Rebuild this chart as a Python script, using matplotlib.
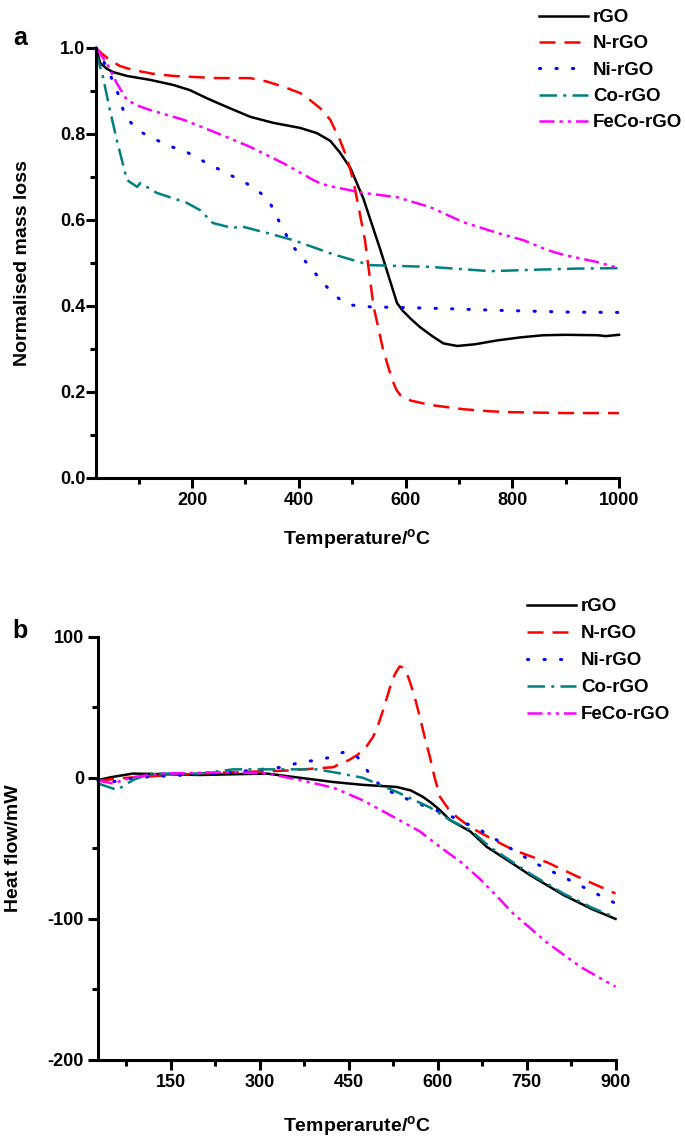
import matplotlib
matplotlib.use('Agg')
import matplotlib.pyplot as plt
from matplotlib.ticker import MultipleLocator

# ---- panel a: TGA (normalised mass loss) ----
rgo_t = [20, 28, 40, 52, 78, 121, 165, 196, 228, 265, 309, 352, 403, 434, 459, 477, 497,
         521, 553, 584, 594, 610, 627, 650, 671, 697, 730, 772, 815, 858, 900, 960, 975, 1000]
rgo_m = [1.0, 0.965, 0.952, 0.944, 0.935, 0.926, 0.914, 0.902, 0.883, 0.863, 0.84, 0.826,
         0.814, 0.802, 0.784, 0.757, 0.72, 0.65, 0.53, 0.407, 0.39, 0.37, 0.351, 0.33,
         0.313, 0.307, 0.311, 0.32, 0.327, 0.332, 0.333, 0.332, 0.33, 0.333]

nrgo_t = [20, 30, 46, 65, 89, 127, 165, 247, 309, 340, 371, 403, 421, 440, 459, 477, 490,
          502, 512, 524, 540, 558, 575, 583, 590, 610, 646, 708, 760, 802, 900, 1000]
nrgo_m = [1.0, 0.988, 0.972, 0.958, 0.949, 0.94, 0.935, 0.93, 0.93, 0.922, 0.91, 0.895,
          0.879, 0.86, 0.833, 0.786, 0.745, 0.693, 0.63, 0.553, 0.40, 0.298, 0.228,
          0.205, 0.193, 0.18, 0.17, 0.16, 0.155, 0.153, 0.151, 0.151]

nirgo_t = [20, 40, 59, 74, 89, 108, 153, 190, 228, 271, 314, 333, 346, 359, 371, 390,
           421, 446, 465, 483, 500, 534, 646, 772, 900, 1000]
nirgo_m = [1.0, 0.956, 0.902, 0.844, 0.821, 0.802, 0.774, 0.758, 0.732, 0.705, 0.677,
           0.658, 0.64, 0.607, 0.577, 0.537, 0.491, 0.453, 0.428, 0.409, 0.402, 0.398,
           0.395, 0.39, 0.386, 0.385]

corgo_t = [20, 33, 46, 59, 78, 97, 103, 134, 190, 215, 239, 277, 290, 340, 390, 465,
           534, 646, 759, 834, 920, 1000]
corgo_m = [0.99, 0.933, 0.856, 0.786, 0.693, 0.677, 0.686, 0.663, 0.64, 0.623, 0.593,
           0.581, 0.586, 0.57, 0.553, 0.52, 0.495, 0.491, 0.481, 0.484, 0.487, 0.488]

fecorgo_t = [20, 40, 59, 78, 100, 121, 184, 247, 309, 371, 400, 427, 445, 465, 521, 584,
             646, 708, 772, 821, 866, 896, 930, 960, 1000]
fecorgo_m = [1.0, 0.965, 0.918, 0.879, 0.865, 0.856, 0.833, 0.802, 0.77, 0.732, 0.712,
             0.693, 0.683, 0.677, 0.663, 0.653, 0.63, 0.595, 0.57, 0.553, 0.53, 0.519,
             0.51, 0.502, 0.488]

# ---- panel b: DSC (heat flow) ----
rgo_dsc_t = [27, 50, 86, 199, 312, 368, 424, 474, 531, 555, 575, 590, 604, 621, 655, 683,
             720, 756, 812, 860, 900]
rgo_dsc = [-1.6, 0.5, 3, 2, 3, 0, -3, -5, -6.5, -9, -13.5, -18, -23, -30, -38, -49, -59,
           -69, -83, -93, -100]

nrgo_dsc_t = [27, 76, 170, 255, 340, 424, 435, 450, 464, 478, 491, 500, 508, 516, 523,
              530, 536, 542, 548, 554, 562, 570, 578, 587, 595, 604, 618, 633, 655, 690,
              727, 785, 846, 900]
nrgo_dsc = [-2, 0, 2.5, 4, 5, 7.5, 10, 12.5, 16, 21, 29, 38, 48, 59, 69, 75, 79, 78, 74,
            67, 56, 43, 29, 14.6, 0, -13.6, -22, -28, -35, -43, -51, -60, -72, -82]

nirgo_dsc_t = [27, 42, 70, 103, 199, 255, 340, 368, 396, 424, 440, 455, 464, 474, 486,
               508, 559, 616, 672, 762, 820, 900]
nirgo_dsc = [-2, -4, -1, 0.5, 2.5, 4, 7.6, 11, 12.5, 15, 18, 17, 15, 10, 2, -7.5, -17,
             -26, -37, -60, -72, -89]

corgo_dsc_t = [27, 59, 86, 115, 199, 255, 340, 396, 424, 474, 531, 587, 621, 655, 688,
               756, 812, 860, 900]
corgo_dsc = [-4, -8.6, -1.6, 3, 3, 6, 6, 6, 4, 0, -10, -21, -30, -37, -49, -68, -82,
             -92, -99]

fecorgo_dsc_t = [27, 52, 86, 132, 255, 312, 368, 424, 474, 531, 570, 604, 640, 672, 700,
                 727, 785, 841, 870, 900]
fecorgo_dsc = [-2, -4, 0.5, 3, 4, 3, -1.6, -7, -16, -29, -38, -49, -60, -72, -84, -96,
               -117, -134, -141, -148]

labels = ['rGO', 'N-rGO', 'Ni-rGO', 'Co-rGO', 'FeCo-rGO']

plt.rcParams['font.family'] = ['Liberation Sans', 'DejaVu Sans']
plt.rcParams['font.weight'] = 'bold'
plt.rcParams['axes.labelweight'] = 'bold'
plt.rcParams['axes.unicode_minus'] = False
plt.rcParams['mathtext.fontset'] = 'custom'
plt.rcParams['mathtext.bf'] = 'Liberation Sans:bold'
plt.rcParams['mathtext.rm'] = 'Liberation Sans:bold'
plt.rcParams['mathtext.default'] = 'bf'

W, H = 685, 1139
fig = plt.figure(figsize=(W / 100, H / 100), dpi=100)


def box(l, t, r, b):
    return [l / W, 1 - b / H, (r - l) / W, (b - t) / H]


def style(ax, ypad):
    for s in ['top', 'right']:
        ax.spines[s].set_visible(False)
    for s in ['left', 'bottom']:
        ax.spines[s].set_linewidth(2.2)
    ax.tick_params(which='major', length=7, width=2.2, labelsize=13, direction='out')
    ax.tick_params(which='minor', length=4, width=2.2, direction='out')
    ax.tick_params(axis='x', which='major', pad=3)
    ax.tick_params(axis='y', which='major', pad=ypad)
    for lab in ax.get_xticklabels() + ax.get_yticklabels():
        lab.set_fontweight('bold')


def draw(ax, series):
    lw = 1.8
    ax.plot(*series[0], color='black', lw=lw, label=labels[0], clip_on=False)
    ax.plot(*series[1], color='#FF0000', lw=lw, dashes=(6.4, 3.6), label=labels[1], clip_on=False)
    ax.plot(*series[2], color='#0000FF', lw=2.2, dashes=(0.4, 5.0), dash_capstyle='round',
            label=labels[2], clip_on=False)
    ax.plot(*series[3], color='#008080', lw=lw, dashes=(7, 2.5, 1.2, 2.5), label=labels[3],
            clip_on=False)
    ax.plot(*series[4], color='#FF00FF', lw=lw, dashes=(6, 2, 1.3, 2, 1.3, 2),
            label=labels[4], clip_on=False)


def add_legend(ax, x, y, spacing):
    ax.legend(loc='upper left', bbox_to_anchor=(x / W, 1 - y / H),
              bbox_transform=fig.transFigure, frameon=False, fontsize=13.5,
              borderpad=0, borderaxespad=0, handlelength=2.6, handletextpad=0.27,
              labelspacing=spacing)


# ---------- panel a ----------
ax1 = fig.add_axes(box(96, 48, 619, 478))
draw(ax1, [(rgo_t, rgo_m), (nrgo_t, nrgo_m), (nirgo_t, nirgo_m),
           (corgo_t, corgo_m), (fecorgo_t, fecorgo_m)])
ax1.set_xlim(20, 1000)
ax1.set_ylim(0, 1.0)
ax1.xaxis.set_major_locator(MultipleLocator(200))
ax1.xaxis.set_minor_locator(MultipleLocator(100))
ax1.yaxis.set_major_locator(MultipleLocator(0.2))
ax1.yaxis.set_minor_locator(MultipleLocator(0.1))
ax1.yaxis.set_major_formatter(lambda v, p: '%.1f' % v)
style(ax1, 0.5)
ax1.set_xlabel('Temperature/$^{o}$C', fontsize=14)
ax1.set_ylabel('Normalised mass loss', fontsize=14)
ax1.xaxis.set_label_coords(0.5, -(527 - 478) / 430)
ax1.yaxis.set_label_coords((31 - 96) / 523, 0.5)
add_legend(ax1, 539, 9, 0.49)
fig.text(13 / W, 1 - 45 / H, 'a', fontsize=18, fontweight='bold', va='baseline')

# ---------- panel b ----------
ax2 = fig.add_axes(box(98, 636.7, 615.5, 1060))
draw(ax2, [(rgo_dsc_t, rgo_dsc), (nrgo_dsc_t, nrgo_dsc), (nirgo_dsc_t, nirgo_dsc),
           (corgo_dsc_t, corgo_dsc), (fecorgo_dsc_t, fecorgo_dsc)])
ax2.set_xlim(27, 900)
ax2.set_ylim(-200, 100)
ax2.xaxis.set_major_locator(MultipleLocator(150))
ax2.xaxis.set_minor_locator(MultipleLocator(75))
ax2.yaxis.set_major_locator(MultipleLocator(100))
ax2.yaxis.set_minor_locator(MultipleLocator(50))
style(ax2, 3)
ax2.set_xlabel('Temperarute/$^{o}$C', fontsize=14)
ax2.set_ylabel('Heat flow/mW', fontsize=14)
ax2.xaxis.set_label_coords(0.5, -(1114 - 1060) / 423.3)
ax2.yaxis.set_label_coords((22 - 98) / 517.5, 0.5)
add_legend(ax2, 527, 598, 0.53)
fig.text(12 / W, 1 - 638 / H, 'b', fontsize=18, fontweight='bold', va='baseline')

fig.savefig('out.png', dpi=100)
